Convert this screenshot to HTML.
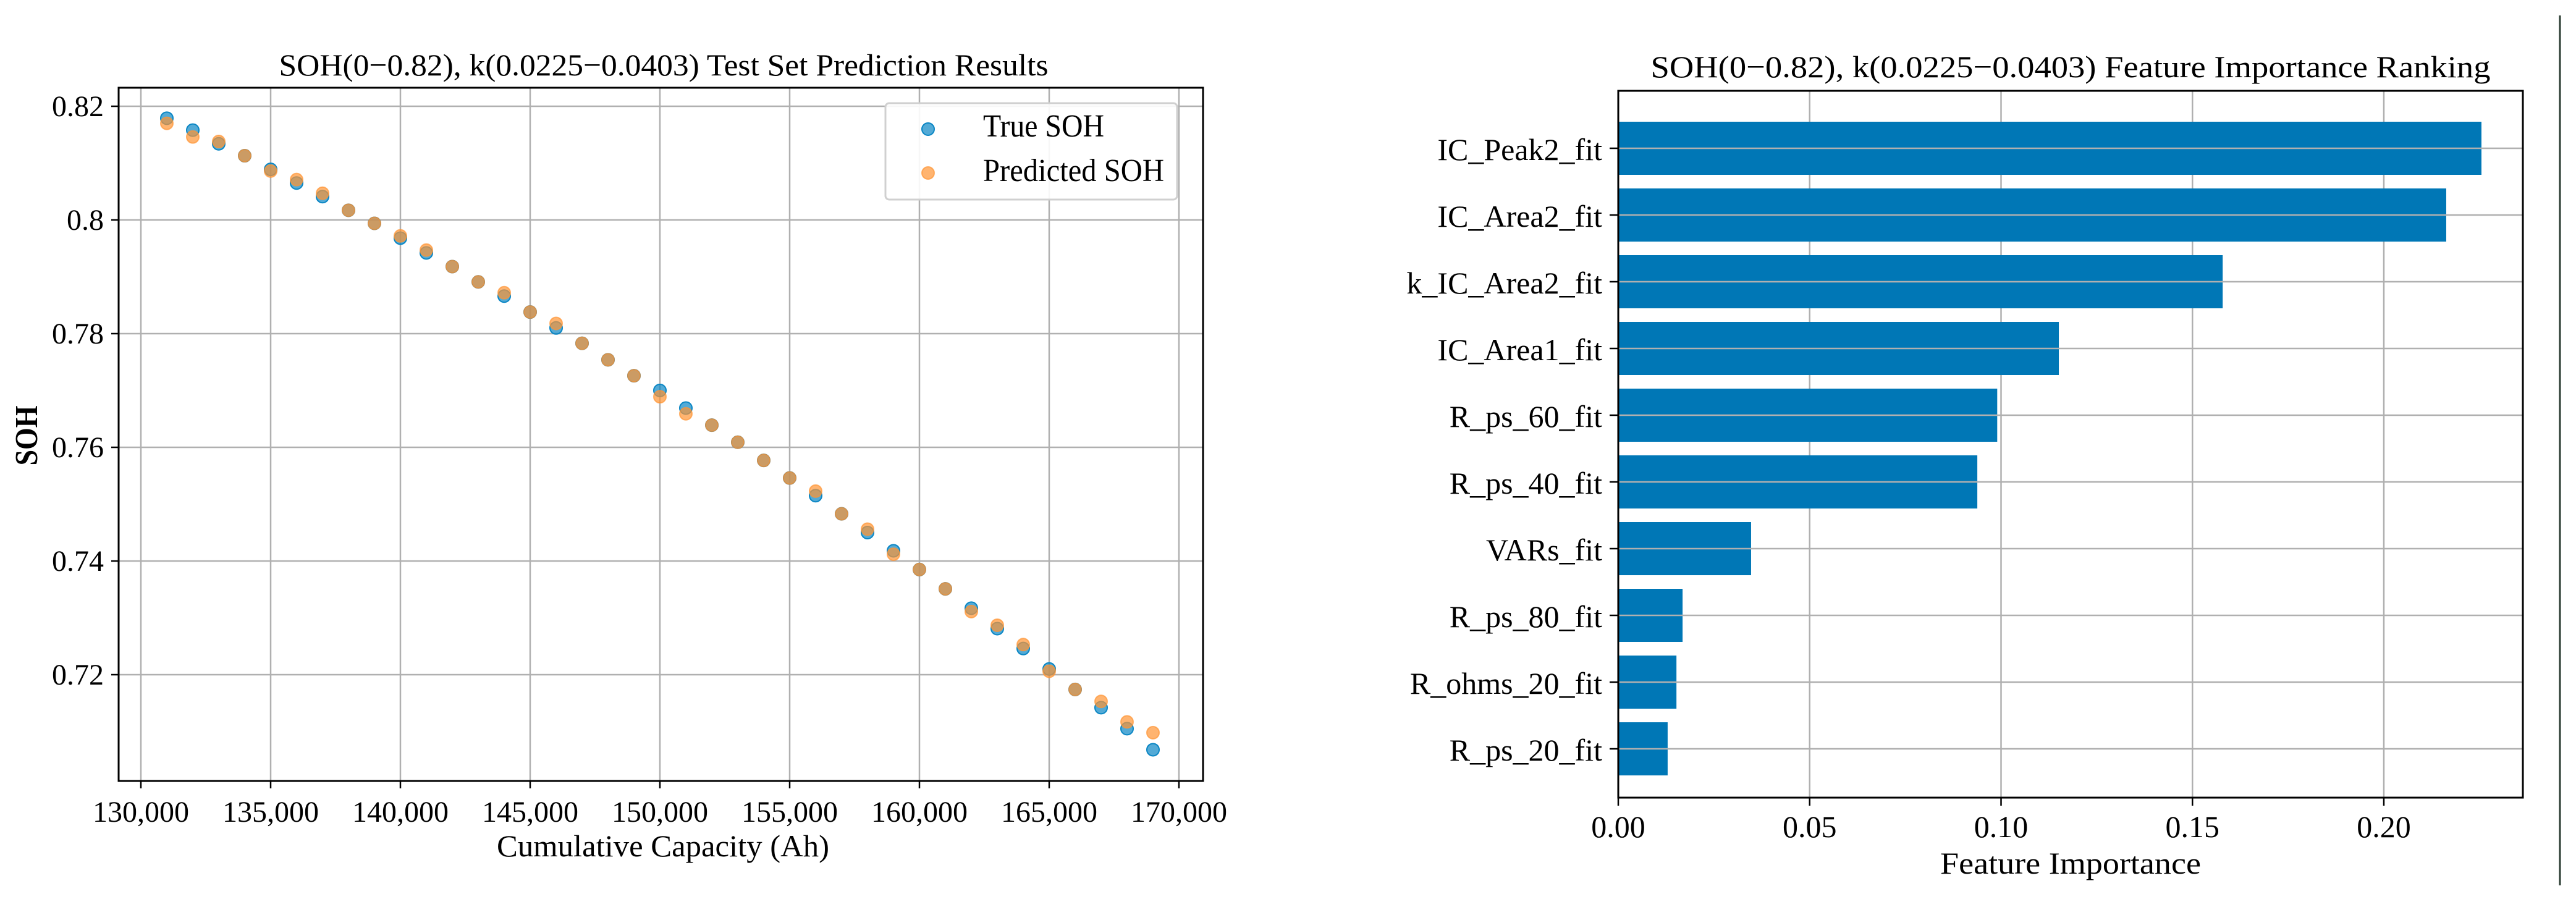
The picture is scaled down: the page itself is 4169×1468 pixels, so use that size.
<!DOCTYPE html>
<html><head><meta charset="utf-8"><style>
html,body{margin:0;padding:0;background:#fff;}
svg{display:block;font-family:"Liberation Serif","DejaVu Serif",serif;}
</style></head><body>
<svg id="fig" width="4169" height="1468" viewBox="0 0 4169 1468" xmlns="http://www.w3.org/2000/svg">
<rect x="0" y="0" width="4169" height="1468" fill="#fff"/>
<g id="left"></g>
<g id="right"></g>
<line x1="4143" y1="25" x2="4143" y2="1433" stroke="#2b3d33" stroke-width="3"/>
</svg>
<script>
const capacity=[131000,132000,133000,134000,135000,136000,137000,138000,139000,140000,141000,142000,143000,144000,145000,146000,147000,148000,149000,150000,151000,152000,153000,154000,155000,156000,157000,158000,159000,160000,161000,162000,163000,164000,165000,166000,167000,168000,169000];
const trueSOH=[0.8179,0.8158,0.8134,0.8113,0.8089,0.8065,0.8041,0.8017,0.7994,0.7968,0.7942,0.7918,0.7891,0.7866,0.7838,0.7810,0.7783,0.7754,0.7726,0.7700,0.7669,0.7639,0.7609,0.7577,0.7546,0.7515,0.7483,0.7450,0.7418,0.7385,0.7351,0.7317,0.7281,0.7246,0.7210,0.7174,0.7142,0.7105,0.7068];
const predSOH=[0.8170,0.8146,0.8138,0.8113,0.8086,0.8071,0.8047,0.8017,0.7994,0.7972,0.7947,0.7918,0.7891,0.7872,0.7838,0.7818,0.7783,0.7754,0.7726,0.7689,0.7659,0.7639,0.7609,0.7577,0.7546,0.7523,0.7483,0.7456,0.7412,0.7385,0.7351,0.7311,0.7287,0.7253,0.7206,0.7174,0.7153,0.7117,0.7098];
const xTicks=[130000,135000,140000,145000,150000,155000,160000,165000,170000];
const xTickLabels=["130,000","135,000","140,000","145,000","150,000","155,000","160,000","165,000","170,000"];
const yTicks=[0.72,0.74,0.76,0.78,0.80,0.82];
const yTickLabels=["0.72","0.74","0.76","0.78","0.8","0.82"];
const features=["IC_Peak2_fit","IC_Area2_fit","k_IC_Area2_fit","IC_Area1_fit","R_ps_60_fit","R_ps_40_fit","VARs_fit","R_ps_80_fit","R_ohms_20_fit","R_ps_20_fit"];
const importance=[0.2255,0.2163,0.1579,0.1151,0.0990,0.0938,0.0347,0.0168,0.0152,0.0129];
const impTicks=[0,0.05,0.10,0.15,0.20];
const impTickLabels=["0.00","0.05","0.10","0.15","0.20"];

const NS="http://www.w3.org/2000/svg";
function mk(parent,tag,attrs,text){const e=document.createElementNS(NS,tag);for(const k in attrs)e.setAttribute(k,attrs[k]);if(text!==undefined)e.textContent=text;parent.appendChild(e);return e;}

// LEFT
const L=document.getElementById('left');
const lx0=192,lx1=1947,ly0=142,ly1=1264;
const sx=v=>228+(v-130000)*210/5000;
const sy=v=>172+(0.82-v)*9200;
let e;
for(let i=0;i<xTicks.length;i++){
  const x=sx(xTicks[i]);
  e=mk(L,'line',{x1:x,y1:ly0,x2:x,y2:ly1,stroke:'#b0b0b0','stroke-width':2.5});
  
  
  e=mk(L,'line',{x1:x,y1:ly1,x2:x,y2:ly1+12,stroke:'#000','stroke-width':2.5});
  
  
  e=mk(L,'text',{x:x,y:1330,'text-anchor':'middle','font-size':48,textLength:156,lengthAdjust:'spacingAndGlyphs'},xTickLabels[i]);
  
  
}
for(let i=0;i<yTicks.length;i++){
  const y=sy(yTicks[i]);
  e=mk(L,'line',{x1:lx0,y1:y,x2:lx1,y2:y,stroke:'#b0b0b0','stroke-width':2.5});
  
  
  e=mk(L,'line',{x1:lx0-12,y1:y,x2:lx0,y2:y,stroke:'#000','stroke-width':2.5});
  
  
  e=mk(L,'text',{x:168,y:y+16,'text-anchor':'end','font-size':48},yTickLabels[i]);
  
  
}
for(let i=0;i<capacity.length;i++){
  e=mk(L,'circle',{cx:sx(capacity[i]),cy:sy(trueSOH[i]),r:10,fill:'#0a86c4','fill-opacity':0.7,stroke:'#0a86c4','stroke-width':2});
  
  
}
for(let i=0;i<capacity.length;i++){
  e=mk(L,'circle',{cx:sx(capacity[i]),cy:sy(predSOH[i]),r:10,fill:'#ff9433','fill-opacity':0.7,stroke:'#ff9433','stroke-opacity':0.7,'stroke-width':2});
  
  
}
e=mk(L,'rect',{x:lx0,y:ly0,width:lx1-lx0,height:ly1-ly0,fill:'none',stroke:'#000','stroke-width':3});


// legend
const lg=mk(L,'g',{});


mk(lg,'rect',{x:1433,y:167,width:472,height:156,rx:6,fill:'#fff','fill-opacity':0.9,stroke:'#d0d0d0','stroke-width':3});
e=mk(lg,'circle',{cx:1502,cy:209,r:10,fill:'#0a86c4','fill-opacity':0.7,stroke:'#0a86c4','stroke-width':2});


e=mk(lg,'text',{x:1591,y:221,'font-size':52,textLength:196,lengthAdjust:'spacingAndGlyphs'},'True SOH');


e=mk(lg,'circle',{cx:1502,cy:280,r:10,fill:'#ff9433','fill-opacity':0.7,stroke:'#ff9433','stroke-opacity':0.7,'stroke-width':2});


e=mk(lg,'text',{x:1591,y:293,'font-size':52,textLength:293,lengthAdjust:'spacingAndGlyphs'},'Predicted SOH');


e=mk(L,'text',{x:1074,y:122,'text-anchor':'middle','font-size':50,textLength:1245,lengthAdjust:'spacingAndGlyphs'},'SOH(0\u22120.82), k(0.0225\u22120.0403) Test Set Prediction Results');


e=mk(L,'text',{x:1073,y:1386,'text-anchor':'middle','font-size':50,textLength:538,lengthAdjust:'spacingAndGlyphs'},'Cumulative Capacity (Ah)');


e=mk(L,'text',{x:0,y:0,'text-anchor':'middle','font-size':52,'font-weight':'bold',transform:'translate(60,705) rotate(-90)',textLength:97,lengthAdjust:'spacingAndGlyphs'},'SOH');



// RIGHT
const R=document.getElementById('right');
const rx0=2619,rx1=4083,ry0=147,ry1=1291;
const bx=v=>rx0+v*6195;
const by=i=>240+i*108;
for(let i=0;i<impTicks.length;i++){
  const x=bx(impTicks[i]);
  e=mk(R,'line',{x1:x,y1:ry0,x2:x,y2:ry1,stroke:'#b0b0b0','stroke-width':2.5});
  
  
}
for(let i=0;i<features.length;i++){
  const y=by(i);
  e=mk(R,'rect',{x:rx0,y:y-43,width:bx(importance[i])-rx0,height:86,fill:'#0077b6'});
  
  
}
for(let i=0;i<features.length;i++){
  const y=by(i);
  e=mk(R,'line',{x1:rx0,y1:y,x2:rx1,y2:y,stroke:'#b0b0b0','stroke-width':2.5});
  
  
  e=mk(R,'line',{x1:rx0-14,y1:y,x2:rx0,y2:y,stroke:'#000','stroke-width':2.5});
  
  
  e=mk(R,'text',{x:2593,y:y+19,'text-anchor':'end','font-size':50},features[i]);
  
  
}
for(let i=0;i<impTicks.length;i++){
  const x=bx(impTicks[i]);
  e=mk(R,'line',{x1:x,y1:ry1,x2:x,y2:ry1+13,stroke:'#000','stroke-width':2.5});
  
  
  e=mk(R,'text',{x:x,y:1355,'text-anchor':'middle','font-size':50},impTickLabels[i]);
  
  
}
e=mk(R,'rect',{x:rx0,y:ry0,width:rx1-rx0,height:ry1-ry0,fill:'none',stroke:'#000','stroke-width':3});


e=mk(R,'text',{x:3351,y:125,'text-anchor':'middle','font-size':50,textLength:1359,lengthAdjust:'spacingAndGlyphs'},'SOH(0\u22120.82), k(0.0225\u22120.0403) Feature Importance Ranking');


e=mk(R,'text',{x:3351,y:1414,'text-anchor':'middle','font-size':50,textLength:422,lengthAdjust:'spacingAndGlyphs'},'Feature Importance');


</script>
</body></html>
